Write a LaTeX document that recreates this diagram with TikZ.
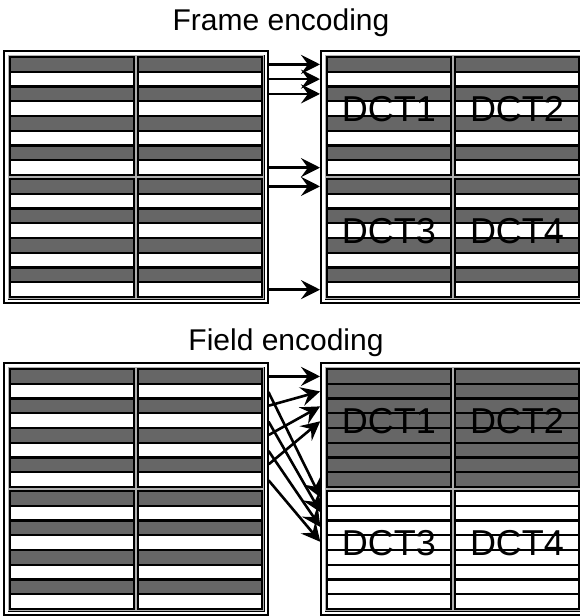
\documentclass[tikz,border=0pt]{standalone}
\usepackage{fontspec}
\setmainfont{Liberation Sans}
\usetikzlibrary{arrows.meta,calc}
\definecolor{cdark}{RGB}{102,102,102}
\definecolor{cedge}{RGB}{175,175,175}
\tikzset{
  mbpic/.style={x=1pt,y=-1pt},
  outerbox/.style={draw=black,line width=2.6pt,minimum width=264pt,minimum height=252pt,
    anchor=north west,inner sep=0pt,outer sep=0pt},
  innerbox/.style={draw=black,line width=1pt},
  quadbox/.style={draw=cedge,line width=1pt},
  strip1/.style={fill=cdark,draw=black,line width=2.2pt},
  strip0/.style={fill=white,draw=black,line width=2.2pt},
  mbarrow/.style={line width=2.6pt,shorten <=1pt,shorten >=1pt,
    -{Stealth[length=19pt,width=19pt,inset=7pt]}},
  mbtitle/.style={font=\fontsize{30}{30}\selectfont,anchor=base,inner sep=0pt},
  dctlabel/.style={font=\fontsize{36}{36}\selectfont,inner sep=0pt},
}
% frame: name, x, y, shade rule (1 = dark strip)
\newcommand{\mbframe}[4]{%
  \node[outerbox] (#1) at (#2,#3) {};
  \draw[innerbox] ($(#1.north west)+(4,4)$) rectangle ($(#1.south east)+(-4,-4)$);
  \foreach \q/\dx/\dy in {1/0/0,2/128/0,3/0/122,4/128/122} {
    \draw[quadbox] (#2+4.5+\dx,#3+4.5+\dy) rectangle ++(127,121);
    \coordinate (#1-\q) at (#2+68+\dx,#3+65+\dy);
    \foreach \i in {1,...,8} {
      \pgfmathtruncatemacro\shade{#4}
      \filldraw[strip\shade] (#2+6+\dx,#3+6+\dy+14.75*\i-14.75) rectangle ++(124,14.75);
      \coordinate (#1-\q-\i) at (#2+68+\dx,#3+6+\dy+14.75*\i-7.375);
    }
  }
}

\begin{document}
\begin{tikzpicture}[mbpic]
  \useasboundingbox (0,0) rectangle (580,616);
  \clip (0,0) rectangle (580,616);

  \node[mbtitle] (frametitle) at (281,30) {Frame encoding};
  \node[mbtitle] (fieldtitle) at (286,350) {Field encoding};

  \mbframe{fa}{4}{51}{mod(\i,2)}
  \mbframe{fb}{321}{51}{mod(\i,2)}
  \mbframe{fc}{4}{363}{mod(\i,2)}
  \mbframe{fd}{321}{363}{\q<3}

  \foreach \n/\q in {1/1,2/2,3/3,4/4} {
    \node[dctlabel] (dcta\n) at ([yshift=7pt]fb-\q) {DCT\n};
    \node[dctlabel] (dctb\n) at ([yshift=7pt]fd-\q) {DCT\n};
  }

  % frame: rows keep their place
  \foreach \s/\t in {2-1/1-1,2-2/1-2,2-3/1-3,2-8/1-8,4-1/3-1,4-8/3-8}
    \draw[mbarrow] (fa-\s -| fa.east) -- (fb-\t -| fb.west);

  % field: odd rows up, even rows down
  \foreach \k in {1,...,4} {
    \pgfmathtruncatemacro\a{2*\k-1}
    \pgfmathtruncatemacro\b{2*\k}
    \draw[mbarrow] (fc-2-\a -| fc.east) -- (fd-1-\k -| fd.west);
    \draw[mbarrow] (fc-2-\b -| fc.east) -- (fd-3-\k -| fd.west);
  }
\end{tikzpicture}
\end{document}
